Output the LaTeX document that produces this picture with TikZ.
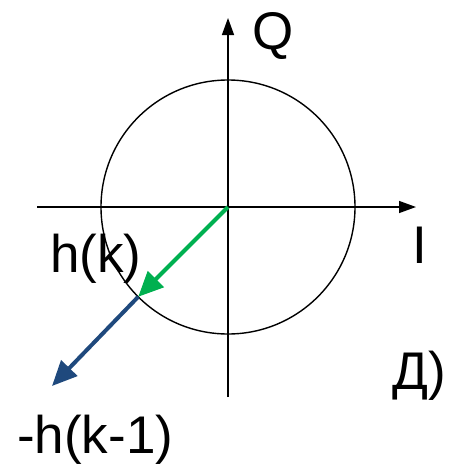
\documentclass[tikz,border=0pt]{standalone}
\usepackage{fontspec}
\setmainfont{Liberation Sans}
\usetikzlibrary{arrows.meta}
\definecolor{vgreen}{RGB}{0,176,80}
\definecolor{vblue}{RGB}{31,73,125}
\begin{document}
\begin{tikzpicture}[x=1pt,y=-1pt,
  axis/.style={line width=1.4pt,-{Triangle[length=17pt,width=12pt]}},
  vec/.style={line width=4pt,-{Triangle[length=25pt,width=22pt]}},
  lbl/.style={anchor=base west,inner sep=0pt,font=\fontsize{53}{57}\selectfont}]
\useasboundingbox (0,0) rectangle (448,464);
\coordinate (O) at (228,207);
\coordinate (xl) at (37,207);
\coordinate (xr) at (416,207);
\coordinate (yb) at (228,397);
\coordinate (yt) at (228,18);
\coordinate (P) at (138.2,296.8);
\coordinate (E) at (52,386);
\draw[line width=1.4pt] (O) circle (127);
\draw[axis] (xl) -- (xr);
\draw[axis] (yb) -- (yt);
\draw[vec,vgreen] (O) -- (P);
\draw[vec,vblue] (P) -- (E);
\node[lbl] (q) at (252,49) {Q};
\node[lbl] (i) at (412,263) {I};
\node[lbl] (hk) at (50,272) {h(k)};
\node[lbl] (hk1) at (17,453) {-h(k-1)};
\node[lbl] (d) at (392,389) {Д)};
\end{tikzpicture}
\end{document}
